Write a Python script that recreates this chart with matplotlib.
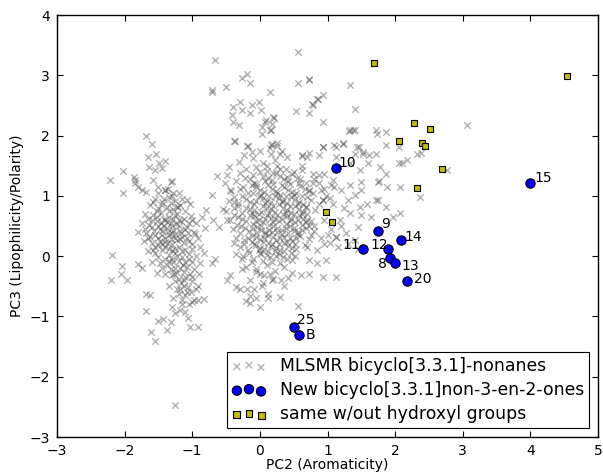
"""PCA map of MLSMR bicyclo[3.3.1]-nonanes with the new non-3-en-2-ones overlaid."""

import matplotlib
matplotlib.use("Agg")
import matplotlib.pyplot as plt

# --- MLSMR library cloud (PC2, PC3) ---
mlsmr_top = [
    (-0.67, 3.26), (0.56, 3.39), (-0.27, 2.95), (-0.19, 3.02), (-0.14, 2.88),
    (-0.71, 2.76), (-0.71, 2.72), (-0.50, 2.80), (0.56, 2.88), (0.72, 2.94),
    (0.15, 2.72), (-0.40, 2.47), (-0.29, 2.56), (-0.27, 2.43), (-0.11, 2.51),
    (-0.01, 2.55), (0.01, 2.42), (-0.15, 2.38), (0.53, 2.40), (0.73, 2.37),
    (0.77, 2.52), (0.86, 2.60), (0.93, 2.68), (0.20, 2.30), (-0.40, 2.22),
    (-0.31, 2.18), (0.03, 2.14), (0.07, 2.22), (0.15, 2.10), (0.21, 2.29),
    (0.18, 2.19), (0.94, 2.23), (-0.37, 1.91), (-0.18, 1.83), (0.17, 1.85),
    (0.26, 1.82), (0.63, 1.66), (0.94, 1.81), (1.12, 1.81), (1.12, 1.65),
    (-0.41, 2.34), (0.09, 2.26), (0.16, 2.09), (0.03, 2.02), (0.73, 2.93),
    (1.33, 2.84), (0.85, 2.61), (0.78, 2.50), (1.40, 2.44), (-0.39, 1.91),
]

mlsmr_left = [
    (-1.68, 1.99), (-1.59, 1.86), (-1.54, 1.69), (-1.65, 1.64), (-1.49, 1.55),
    (-1.41, 1.57), (-1.45, 1.46), (-1.64, 1.48), (-1.55, 1.43), (-2.02, 1.41),
    (-2.22, 1.26), (-2.03, 1.05), (-1.85, 1.26), (-1.80, 1.15), (-1.69, 1.07),
    (-1.58, 1.26), (-1.51, 1.15), (-1.31, 1.23), (-1.28, 1.04), (-1.41, 1.09),
    (-1.86, 1.31), (-1.84, 1.21), (-1.75, 1.09), (-1.36, 1.12), (-1.30, 1.24),
    (-1.08, 0.93), (-1.03, 0.87), (-1.21, 0.82), (-0.79, 0.77), (-0.86, 0.65),
    (-0.69, 0.60), (-0.61, 0.49), (-0.81, 0.46), (-0.96, 0.37), (-0.49, 0.60),
    (-0.46, 1.48), (-0.64, 1.33), (-0.49, 1.34), (-0.51, 1.21), (-0.44, 1.09),
    (-0.39, 0.90), (-0.71, 1.01), (-0.54, 0.79),
    (-1.55, 0.95), (-1.45, 0.90), (-1.35, 0.98), (-1.25, 0.92), (-1.62, 0.85),
    (-1.50, 0.80), (-1.38, 0.82), (-1.28, 0.78), (-1.18, 0.85), (-1.10, 0.75),
    (-1.70, 0.70), (-1.58, 0.68), (-1.46, 0.72), (-1.34, 0.65), (-1.22, 0.70),
    (-1.12, 0.62), (-1.02, 0.66), (-0.95, 0.55), (-1.75, 0.55), (-1.64, 0.52),
    (-1.52, 0.58), (-1.42, 0.50), (-1.32, 0.55), (-1.20, 0.50), (-1.08, 0.48),
    (-0.98, 0.40), (-1.80, 0.40), (-1.68, 0.38), (-1.56, 0.42), (-1.45, 0.35),
    (-1.36, 0.40), (-1.26, 0.36), (-1.15, 0.32), (-1.05, 0.25), (-0.92, 0.30),
    (-1.72, 0.25), (-1.60, 0.22), (-1.50, 0.18), (-1.40, 0.24), (-1.30, 0.20),
    (-1.20, 0.15), (-1.10, 0.10), (-1.00, 0.12), (-0.88, 0.15), (-1.66, 0.08),
    (-1.55, 0.05), (-1.45, 0.10), (-1.35, 0.02), (-1.25, 0.05), (-1.15, -0.02),
    (-1.05, -0.05), (-0.95, 0.00), (-0.82, 0.05), (-1.60, -0.10), (-1.48, -0.12),
    (-1.38, -0.15), (-1.28, -0.10), (-1.18, -0.20), (-1.08, -0.18), (-0.98, -0.22),
    (-0.88, -0.12), (-1.52, -0.28), (-1.40, -0.30), (-1.30, -0.32), (-1.20, -0.38),
    (-1.10, -0.35), (-1.00, -0.42), (-0.90, -0.30), (-1.35, -0.50), (-1.22, -0.55),
    (-1.12, -0.50), (-1.02, -0.60), (-0.92, -0.50), (-1.28, -0.70), (-1.15, -0.72),
    (-1.05, -0.80),
    (-1.50, 1.05), (-1.40, 1.10), (-1.30, 1.00), (-1.20, 1.05), (-1.58, 0.90),
    (-1.42, 0.95), (-1.32, 0.88), (-1.22, 0.82), (-1.15, 0.95), (-1.65, 0.62),
    (-1.52, 0.65), (-1.40, 0.60), (-1.28, 0.62), (-1.16, 0.58), (-1.05, 0.55),
    (-1.70, 0.45), (-1.60, 0.48), (-1.48, 0.45), (-1.38, 0.46), (-1.28, 0.44),
    (-1.18, 0.42), (-1.06, 0.38), (-1.62, 0.32), (-1.50, 0.30), (-1.40, 0.30),
    (-1.32, 0.28), (-1.22, 0.26), (-1.12, 0.22), (-1.00, 0.20), (-1.55, 0.15),
    (-1.45, 0.20), (-1.35, 0.12), (-1.25, 0.12), (-1.15, 0.08), (-1.05, 0.04),
    (-1.50, -0.02), (-1.40, -0.05), (-1.30, -0.04), (-1.20, -0.08), (-1.10, -0.10),
    (-1.00, -0.10), (-1.45, -0.20), (-1.32, -0.22), (-1.22, -0.28), (-1.12, -0.26),
    (-1.04, -0.30), (-1.26, -0.42), (-1.16, -0.45), (-1.06, -0.52), (-1.20, -0.62),
    (-1.10, -0.65), (-0.98, -0.72), (-1.30, -0.85), (-1.18, -0.90),
    (-1.45, 0.85), (-1.35, 0.75), (-1.25, 0.68), (-1.42, 0.62), (-1.30, 0.50),
    (-1.46, 0.55), (-1.35, 0.35), (-1.25, 0.30), (-1.44, 0.42), (-1.30, 0.38),
    (-1.20, 0.60), (-1.10, 0.45), (-1.55, 0.35), (-1.40, 0.15), (-1.30, 0.10),
    (-1.18, 0.28), (-1.22, 0.00), (-1.34, -0.08), (-1.14, -0.14), (-1.26, -0.20),
    (-1.60, 0.60), (-1.52, 0.75), (-1.65, 0.30), (-1.58, 0.10), (-1.08, 0.30),
    (-1.00, 0.60), (-1.12, -0.40), (-1.18, -0.55), (-1.08, -0.60), (-0.95, -0.55),
    (-1.50, 0.50), (-1.38, 0.56), (-1.24, 0.54), (-1.16, 0.38), (-1.36, 0.22),
    (-1.48, 0.25), (-1.27, -0.30), (-1.00, -0.35), (-1.15, -0.80), (-1.25, -0.95),
    (-1.68, -0.91), (-1.51, -1.07), (-1.43, -1.04), (-1.31, -1.09), (-1.38, -1.23),
    (-1.61, -1.25), (-1.55, -1.40), (-1.06, -1.03), (-1.03, -1.18), (-0.92, -1.17),
    (-1.11, -0.92), (-1.01, -0.76), (-0.91, -0.73), (-0.82, -0.71), (-1.68, -0.63),
    (-1.63, -0.65), (-2.20, -0.39), (-2.06, -0.30), (-1.96, -0.39), (-2.04, -0.17),
    (-1.80, -0.13), (-1.75, -0.20), (-2.18, 0.02), (-1.26, -2.47), (-0.49, -0.39),
    (-0.44, -0.32), (-0.71, -0.12), (-0.66, -0.04),
]

mlsmr_center = [
    (0.00, 1.75), (0.15, 1.80), (0.30, 1.70), (-0.10, 1.62), (0.22, 1.60),
    (0.40, 1.65), (0.05, 1.55), (-0.20, 1.45), (-0.05, 1.48), (0.10, 1.42),
    (0.25, 1.50), (0.38, 1.44), (0.50, 1.40), (0.62, 1.50), (-0.30, 1.38),
    (-0.35, 1.25), (-0.22, 1.30), (-0.08, 1.22), (0.05, 1.32), (0.18, 1.26),
    (0.30, 1.33), (0.42, 1.24), (0.55, 1.30), (0.68, 1.22), (0.80, 1.28),
    (-0.42, 1.08), (-0.30, 1.12), (-0.18, 1.05), (-0.06, 1.14), (0.06, 1.06),
    (0.18, 1.12), (0.30, 1.02), (0.42, 1.10), (0.54, 1.04), (0.66, 1.12),
    (0.78, 1.05), (0.90, 1.10), (-0.45, 0.92), (-0.33, 0.88), (-0.20, 0.95),
    (-0.08, 0.86), (0.04, 0.96), (0.16, 0.90), (0.28, 0.97), (0.40, 0.88),
    (0.52, 0.95), (0.64, 0.86), (0.76, 0.93), (0.88, 0.87), (-0.50, 0.75),
    (-0.38, 0.80), (-0.26, 0.72), (-0.14, 0.78), (-0.02, 0.70), (0.10, 0.80),
    (0.22, 0.74), (0.34, 0.80), (0.46, 0.72), (0.58, 0.78), (0.70, 0.70),
    (0.82, 0.76), (-0.44, 0.60), (-0.32, 0.65), (-0.20, 0.58), (-0.08, 0.66),
    (0.04, 0.56), (0.16, 0.64), (0.28, 0.58), (0.40, 0.66), (0.52, 0.56),
    (0.64, 0.62), (0.76, 0.58), (-0.40, 0.45), (-0.28, 0.50), (-0.16, 0.42),
    (-0.04, 0.48), (0.08, 0.40), (0.20, 0.50), (0.32, 0.44), (0.44, 0.50),
    (0.56, 0.40), (0.68, 0.46), (0.80, 0.42), (-0.36, 0.30), (-0.24, 0.26),
    (-0.12, 0.34), (0.00, 0.28), (0.12, 0.35), (0.24, 0.27), (0.36, 0.32),
    (0.48, 0.25), (0.60, 0.33), (0.72, 0.28), (-0.30, 0.15), (-0.18, 0.10),
    (-0.06, 0.18), (0.06, 0.12), (0.18, 0.20), (0.30, 0.10), (0.42, 0.16),
    (0.54, 0.12), (0.66, 0.18), (-0.25, 0.00), (-0.10, -0.04), (0.02, 0.04),
    (0.15, -0.02), (0.28, 0.03), (0.40, -0.05), (0.52, 0.00), (-0.20, -0.18),
    (-0.05, -0.22), (0.10, -0.15), (0.22, -0.25), (0.35, -0.18), (0.48, -0.28),
    (-0.15, -0.40), (0.05, -0.45), (0.20, -0.38), (0.35, -0.50), (-0.30, -0.55),
    (0.12, -0.62), (0.30, -0.68), (-0.05, -0.70), (0.57, -0.83), (0.00, -0.85),
    (-0.20, -0.75),
    (-0.10, 1.35), (0.00, 1.40), (0.12, 1.30), (0.24, 1.38), (0.36, 1.28),
    (0.48, 1.36), (0.60, 1.28), (-0.25, 1.15), (-0.12, 1.18), (0.00, 1.10),
    (0.12, 1.18), (0.24, 1.08), (0.36, 1.15), (0.48, 1.06), (0.60, 1.16),
    (0.72, 1.08), (-0.38, 0.98), (-0.26, 1.00), (-0.14, 0.90), (-0.02, 1.00),
    (0.10, 0.92), (0.22, 1.00), (0.34, 0.92), (0.46, 0.98), (0.58, 0.90),
    (0.70, 0.98), (-0.32, 0.84), (-0.20, 0.80), (-0.08, 0.76), (0.04, 0.84),
    (0.16, 0.78), (0.28, 0.86), (0.40, 0.76), (0.52, 0.84), (0.64, 0.74),
    (-0.38, 0.68), (-0.26, 0.62), (-0.14, 0.68), (-0.02, 0.60), (0.10, 0.68),
    (0.22, 0.62), (0.34, 0.70), (0.46, 0.62), (0.58, 0.68), (0.70, 0.60),
    (-0.34, 0.52), (-0.22, 0.46), (-0.10, 0.54), (0.02, 0.44), (0.14, 0.52),
    (0.26, 0.46), (0.38, 0.54), (0.50, 0.46), (0.62, 0.52), (-0.30, 0.38),
    (-0.18, 0.30), (-0.06, 0.38), (0.06, 0.30), (0.18, 0.40), (0.30, 0.30),
    (0.42, 0.38), (0.54, 0.30), (-0.24, 0.20), (-0.12, 0.24), (0.00, 0.14),
    (0.12, 0.22), (0.24, 0.14), (0.36, 0.22), (0.48, 0.14), (-0.16, 0.06),
    (-0.02, 0.10), (0.10, 0.02), (0.22, 0.08), (0.34, -0.02), (0.46, 0.06),
    (-0.12, -0.10), (0.04, -0.08), (0.18, -0.10), (0.30, -0.12), (0.00, -0.30),
    (0.15, -0.30),
    (-0.05, 1.20), (0.08, 1.25), (0.20, 1.20), (0.32, 1.18), (0.45, 1.20),
    (0.58, 1.22), (-0.10, 1.05), (0.02, 1.02), (0.14, 1.00), (0.26, 1.04),
    (0.38, 1.00), (0.50, 1.02), (0.62, 1.00), (-0.05, 0.92), (0.08, 0.88),
    (0.20, 0.84), (0.32, 0.90), (0.44, 0.84), (0.56, 0.86), (0.68, 0.82),
    (-0.10, 0.70), (0.02, 0.74), (0.14, 0.72), (0.26, 0.68), (0.38, 0.72),
    (0.50, 0.70), (0.62, 0.70), (-0.05, 0.58), (0.08, 0.62), (0.20, 0.56),
    (0.32, 0.62), (0.44, 0.58), (0.56, 0.60), (0.68, 0.56), (-0.10, 0.46),
    (0.02, 0.50), (0.14, 0.44), (0.26, 0.40), (0.38, 0.46), (0.50, 0.42),
    (0.62, 0.44), (-0.05, 0.32), (0.08, 0.36), (0.20, 0.32), (0.32, 0.36),
    (0.44, 0.30), (0.56, 0.36), (-0.08, 0.20), (0.04, 0.24), (0.16, 0.16),
    (0.28, 0.20), (0.40, 0.24), (0.52, 0.20), (0.00, 0.05), (0.12, 0.08),
    (0.24, 0.00), (0.36, 0.08), (0.48, -0.06), (0.10, 1.50), (0.20, 1.38),
    (0.30, 1.45), (0.40, 1.32), (-0.15, 1.28), (0.72, 0.50), (0.75, 0.35),
    (0.70, 0.15),
    (-0.27, -0.22), (-0.35, -0.52), (-0.19, -0.55), (-0.09, -0.55), (0.03, -0.50),
    (-0.15, -0.66), (0.12, -0.69), (-0.14, -0.78), (-0.06, -0.26), (0.06, -0.32),
    (0.18, -0.40), (0.31, -0.39), (0.42, -0.37), (0.61, -0.32), (0.73, -0.29),
    (0.93, -0.34), (1.12, -0.35), (-0.39, 0.21), (-0.35, 0.04), (-0.26, -0.04),
    (1.03, 0.21), (1.00, 0.35), (1.12, 0.32), (0.73, -0.07), (0.85, -0.12),
    (0.98, -0.07), (-0.19, 1.82), (-0.11, 1.73), (-0.24, 1.67), (-0.31, 1.56),
    (0.18, 1.86), (0.26, 1.88), (0.33, 1.75), (0.16, 1.70), (0.62, 1.67),
    (0.73, 1.71), (0.78, 1.21), (0.88, 1.34), (0.95, 1.12), (1.05, 1.18),
    (0.93, 0.93), (1.03, 0.96),
]

mlsmr_right = [
    (1.32, 2.07), (1.38, 2.10), (1.72, 2.09), (1.87, 2.06), (1.73, 2.03),
    (3.07, 2.17), (0.93, 1.81), (1.10, 1.84), (1.23, 1.86), (1.47, 1.81),
    (1.40, 1.70), (1.52, 1.69), (1.62, 1.67), (1.71, 1.69), (1.87, 1.84),
    (2.06, 1.81), (2.10, 1.54), (2.17, 1.59), (2.32, 1.70), (2.39, 1.71),
    (2.77, 1.43), (0.70, 1.65), (0.88, 1.67), (0.95, 1.37), (0.78, 1.37),
    (0.63, 1.43), (1.33, 1.54), (1.48, 1.43), (1.60, 1.54), (1.77, 1.48),
    (1.50, 1.23), (1.75, 1.23), (1.87, 1.37), (1.88, 1.15), (1.75, 0.93),
    (2.07, 1.15), (2.37, 0.98), (1.33, 1.18), (1.20, 1.09), (1.30, 0.93),
    (1.40, 1.01), (1.08, 1.26), (0.88, 1.21), (0.73, 1.09), (0.93, 0.93),
    (1.08, 0.87), (0.68, 0.82), (1.48, 0.82), (1.65, 0.65), (1.87, 0.82),
    (2.07, 0.71), (1.33, 0.71), (1.18, 0.60), (1.45, 0.49), (1.28, 0.38),
    (1.13, 0.32), (1.40, 0.27), (1.33, 2.09), (1.40, 2.09), (2.05, 1.54),
    (1.23, 1.87), (1.43, 1.81), (1.52, 1.73), (1.76, 1.25), (1.50, 1.09),
    (1.72, 0.93), (1.58, 0.87), (1.50, 0.68), (1.97, 0.65), (0.95, 0.60),
    (1.05, 0.45), (0.90, 0.30), (1.15, 0.15), (0.85, 0.10), (1.20, 0.50),
    (1.25, 0.80), (0.98, 1.00), (1.10, 1.15), (0.80, 0.50), (0.95, 0.20),
    (1.30, 0.20), (1.45, 0.12),
]

# --- New bicyclo[3.3.1]non-3-en-2-ones ---
new_labels = ["10", "15", "9", "14", "11", "12", "8", "13", "20", "25", "B"]
new_pc2 = [1.12, 4.00, 1.75, 2.08, 1.53, 1.89, 1.93, 2.00, 2.17, 0.51, 0.58]
new_pc3 = [1.46, 1.21, 0.41, 0.27, 0.12, 0.12, -0.03, -0.12, -0.42, -1.17, -1.31]

# --- same compounds without hydroxyl groups ---
dehyd_pc2 = [1.69, 4.54, 2.28, 2.52, 2.05, 2.40, 2.44, 2.70, 2.33, 0.98, 1.07]
dehyd_pc3 = [3.20, 2.98, 2.21, 2.11, 1.91, 1.88, 1.83, 1.45, 1.13, 0.74, 0.57]

# label placement: (dx, dy) in pixels and horizontal alignment
label_offsets = {
    "10": (3, 5, "left"), "15": (4, 5, "left"), "9": (3, 7, "left"),
    "14": (4, 3, "left"), "11": (-3, 4, "right"), "12": (0, 4, "right"),
    "8": (-4, -6, "right"), "13": (6, -3, "left"), "20": (7, 2, "left"),
    "25": (3, 7, "left"), "B": (7, 0, "left"),
}

cloud = mlsmr_top + mlsmr_left + mlsmr_center + mlsmr_right
cloud_x = [p[0] for p in cloud]
cloud_y = [p[1] for p in cloud]

fig = plt.figure(figsize=(6.03, 4.73), dpi=100)
ax = fig.add_axes([57 / 603, 36 / 473, 541 / 603, 422 / 473])

ax.scatter(cloud_x, cloud_y, marker="x", s=22, c="0.25", alpha=0.4,
           linewidths=1.0, label="MLSMR bicyclo[3.3.1]-nonanes", zorder=1)
ax.scatter(new_pc2, new_pc3, marker="o", s=45, c="#0000ff", edgecolors="k",
           linewidths=0.8, label="New bicyclo[3.3.1]non-3-en-2-ones", zorder=3)
ax.scatter(dehyd_pc2, dehyd_pc3, marker="s", s=25, c="#bfbf00", edgecolors="k",
           linewidths=0.8, label="same w/out hydroxyl groups", zorder=3)

for lab, x, y in zip(new_labels, new_pc2, new_pc3):
    dx, dy, ha = label_offsets[lab]
    ax.annotate(lab, (x, y), xytext=(dx, dy), textcoords="offset pixels",
                ha=ha, va="center", fontsize=10, zorder=4)

ax.set_xlim(-3, 5)
ax.set_ylim(-3, 4)
ax.set_xticks(range(-3, 6))
ax.set_yticks(range(-3, 5))
ax.tick_params(direction="in", top=True, right=True, length=4, width=0.8,
               labelsize=10, pad=5)
for sp in ax.spines.values():
    sp.set_linewidth(1.0)
ax.set_xlabel("PC2 (Aromaticity)", fontsize=10, labelpad=0)
ax.set_ylabel("PC3 (Lipophilicity/Polarity)", fontsize=10, labelpad=4)

leg = ax.legend(loc="lower right", scatterpoints=3, fontsize=12.4,
                labelspacing=0.35, borderpad=0.3, fancybox=False,
                framealpha=1, edgecolor="k", borderaxespad=0.5)
leg.get_frame().set_linewidth(0.8)

fig.savefig("out.png", dpi=100, facecolor="white")
